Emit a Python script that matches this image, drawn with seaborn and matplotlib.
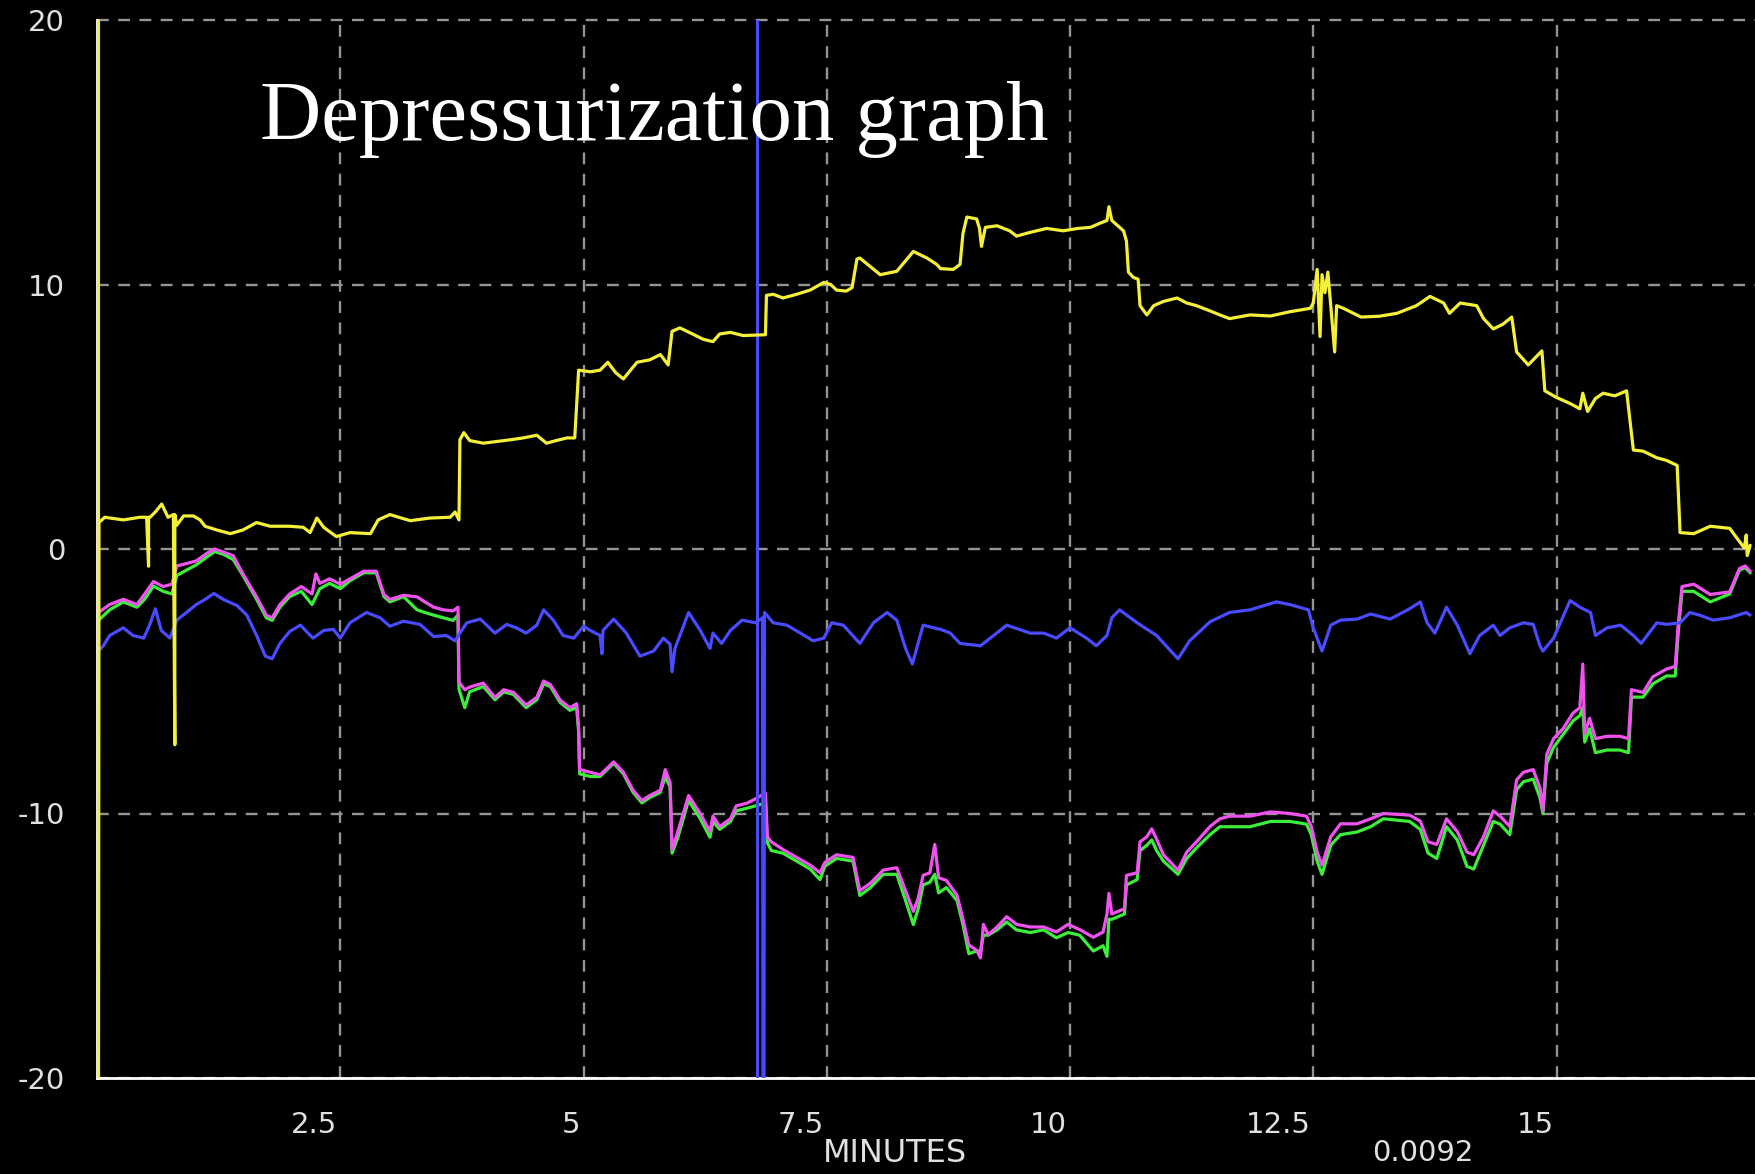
import matplotlib
matplotlib.use("Agg")
import matplotlib.pyplot as plt
import matplotlib.transforms as mtransforms
import seaborn as sns

# ---- data (minutes, pressure) ----
yellow_t = [0.015, 0.015, 0.02, 0.08, 0.27, 0.44, 0.51, 0.53, 0.53, 0.545,
            0.60, 0.665, 0.73, 0.785, 0.80, 0.80, 0.82, 0.89, 0.99, 1.06,
            1.11, 1.23, 1.37, 1.50, 1.64, 1.78, 1.98, 2.12, 2.19, 2.26,
            2.33, 2.46, 2.60, 2.81, 2.89, 3.01, 3.22, 3.42, 3.63, 3.68,
            3.72, 3.73, 3.77, 3.83, 3.97, 4.25, 4.38, 4.52, 4.62, 4.72,
            4.83, 4.91, 4.93, 4.95, 5.07, 5.17, 5.25, 5.33, 5.41, 5.55,
            5.68, 5.79, 5.87, 5.91, 5.99, 6.12, 6.23, 6.33, 6.40, 6.51,
            6.64, 6.78, 6.87, 6.88, 6.95, 7.05, 7.19, 7.33, 7.47, 7.54,
            7.60, 7.70, 7.76, 7.81, 7.84, 8.05, 8.22, 8.39, 8.53, 8.63,
            8.67, 8.80, 8.87, 8.90, 8.94, 9.04, 9.07, 9.09, 9.13, 9.25,
            9.38, 9.45, 9.59, 9.76, 9.93, 10.08, 10.21, 10.31, 10.38, 10.40,
            10.43, 10.55, 10.58, 10.60, 10.65, 10.70, 10.72, 10.79, 10.86, 10.96,
            11.10, 11.20, 11.30, 11.44, 11.54, 11.64, 11.85, 12.06, 12.26, 12.47,
            12.50, 12.54, 12.57, 12.59, 12.62, 12.65, 12.68, 12.72, 12.74, 12.81,
            12.99, 13.18, 13.36, 13.56, 13.70, 13.84, 13.90, 14.01, 14.18, 14.25,
            14.35, 14.45, 14.54, 14.59, 14.71, 14.85, 14.88, 15.00, 15.14, 15.24,
            15.27, 15.32, 15.40, 15.48, 15.60, 15.72, 15.79, 15.89, 16.03, 16.13,
            16.24, 16.27, 16.41, 16.58, 16.78, 16.85, 16.93, 16.95, 16.96, 16.99]
yellow_v = [20, -20, 1.0, 1.2, 1.1, 1.2, 1.2, -0.65, 1.2, 1.2,
            1.4, 1.7, 1.2, 1.3, -7.4, 1.3, 0.9, 1.25, 1.25, 1.1,
            0.86, 0.72, 0.58, 0.72, 1.0, 0.86, 0.86, 0.82, 0.62, 1.17,
            0.82, 0.47, 0.62, 0.58, 1.1, 1.3, 1.07, 1.17, 1.2, 1.4,
            1.1, 4.13, 4.4, 4.1, 4.0, 4.13, 4.2, 4.3, 4.0, 4.1,
            4.2, 4.2, 5.5, 6.76, 6.7, 6.76, 7.06, 6.67, 6.43, 7.06,
            7.15, 7.35, 6.96, 8.23, 8.36, 8.13, 7.93, 7.84, 8.13, 8.19,
            8.07, 8.09, 8.1, 9.59, 9.63, 9.49, 9.63, 9.79, 10.08, 10.0,
            9.79, 9.75, 9.88, 10.96, 11.0, 10.37, 10.5, 11.25, 11.0, 10.76,
            10.6, 10.57, 10.76, 11.93, 12.55, 12.48, 12.12, 11.44, 12.16, 12.22,
            12.03, 11.83, 11.97, 12.12, 12.03, 12.12, 12.16, 12.32, 12.42, 12.94,
            12.42, 12.03, 11.64, 10.47, 10.27, 10.2, 9.2, 8.85, 9.2, 9.36,
            9.49, 9.3, 9.2, 9.0, 8.85, 8.71, 8.85, 8.81, 8.97, 9.1,
            9.3, 10.57, 8.03, 10.37, 9.69, 10.47, 9.2, 7.45, 9.2, 9.1,
            8.77, 8.8, 8.91, 9.2, 9.55, 9.3, 8.91, 9.3, 9.2, 8.71,
            8.32, 8.5, 8.77, 7.45, 6.96, 7.49, 5.98, 5.73, 5.5, 5.3,
            5.89, 5.2, 5.69, 5.89, 5.79, 5.98, 3.74, 3.7, 3.45, 3.35,
            3.16, 0.62, 0.58, 0.86, 0.78, 0.43, 0.04, 0.53, -0.25, 0.14]

pink_t = [0.015, 0.13, 0.27, 0.41, 0.49, 0.58, 0.68, 0.77, 0.82, 0.92,
          1.02, 1.13, 1.21, 1.30, 1.40, 1.50, 1.64, 1.74, 1.80, 1.88,
          1.98, 2.10, 2.21, 2.25, 2.29, 2.39, 2.50, 2.60, 2.74, 2.87,
          2.95, 3.01, 3.15, 3.29, 3.37, 3.46, 3.56, 3.66, 3.71, 3.72,
          3.78, 3.83, 3.97, 4.09, 4.18, 4.28, 4.41, 4.52, 4.59, 4.66,
          4.76, 4.86, 4.93, 4.95, 4.96, 5.07, 5.17, 5.31, 5.41, 5.51,
          5.60, 5.68, 5.79, 5.84, 5.89, 5.91, 5.97, 6.08, 6.20, 6.30,
          6.33, 6.40, 6.51, 6.57, 6.68, 6.78, 6.87, 6.89, 6.93, 7.05,
          7.19, 7.33, 7.43, 7.48, 7.60, 7.77, 7.84, 7.95, 8.08, 8.22,
          8.32, 8.39, 8.44, 8.49, 8.56, 8.61, 8.65, 8.73, 8.84, 8.90,
          8.96, 9.04, 9.08, 9.11, 9.16, 9.25, 9.35, 9.45, 9.59, 9.73,
          9.86, 9.98, 10.10, 10.24, 10.34, 10.38, 10.40, 10.43, 10.56, 10.58,
          10.69, 10.72, 10.79, 10.84, 10.89, 10.96, 11.11, 11.20, 11.30, 11.44,
          11.54, 11.64, 11.85, 12.06, 12.26, 12.43, 12.48, 12.54, 12.59, 12.68,
          12.78, 12.95, 13.09, 13.22, 13.49, 13.60, 13.68, 13.77, 13.87, 13.98,
          14.08, 14.15, 14.25, 14.35, 14.42, 14.52, 14.59, 14.66, 14.76, 14.83,
          14.86, 14.90, 14.97, 15.07, 15.17, 15.24, 15.27, 15.29, 15.34, 15.40,
          15.52, 15.65, 15.74, 15.77, 15.89, 15.99, 16.13, 16.22, 16.25, 16.29,
          16.41, 16.58, 16.78, 16.88, 16.94, 16.99]
pink_v = [-2.4, -2.1, -1.9, -2.1, -1.7, -1.23, -1.42, -1.33, -0.64, -0.55,
          -0.45, -0.16, 0.0, -0.12, -0.25, -0.94, -1.81, -2.5, -2.6, -2.1,
          -1.7, -1.42, -1.7, -0.94, -1.3, -1.13, -1.33, -1.13, -0.84, -0.84,
          -1.72, -1.91, -1.75, -1.81, -2.0, -2.2, -2.3, -2.34, -2.2, -5.03,
          -5.32, -5.22, -5.07, -5.61, -5.32, -5.42, -5.9, -5.61, -4.99, -5.13,
          -5.71, -6.0, -5.85, -6.78, -8.34, -8.44, -8.54, -8.05, -8.44, -9.12,
          -9.51, -9.32, -9.12, -8.34, -8.83, -11.36, -10.68, -9.32, -10.0, -10.68,
          -10.1, -10.49, -10.2, -9.71, -9.61, -9.42, -9.22, -10.88, -11.07, -11.36,
          -11.66, -11.95, -12.24, -11.85, -11.56, -11.66, -12.92, -12.63, -12.14, -12.05,
          -13.02, -13.7, -13.2, -12.34, -12.24, -11.17, -12.43, -12.53, -13.1, -14.0,
          -14.97, -15.17, -15.46, -14.19, -14.58, -14.29, -13.9, -14.19, -14.29, -14.29,
          -14.48, -14.19, -14.39, -14.68, -14.48, -13.8, -13.02, -13.8, -13.6, -12.34,
          -12.24, -11.07, -10.88, -10.58, -10.97, -11.56, -12.14, -11.46, -11.07, -10.49,
          -10.2, -10.1, -10.1, -9.94, -10.0, -10.1, -10.49, -11.46, -11.95, -10.88,
          -10.39, -10.39, -10.2, -10.0, -10.06, -10.29, -11.07, -11.17, -10.2, -10.68,
          -11.46, -11.56, -10.88, -9.9, -10.1, -10.49, -8.73, -8.44, -8.34, -9.03,
          -9.9, -7.76, -7.17, -6.78, -6.2, -6.0, -4.35, -6.98, -6.4, -7.17,
          -7.08, -7.08, -7.17, -5.32, -5.42, -4.83, -4.54, -4.44, -2.88, -1.42,
          -1.33, -1.72, -1.62, -0.74, -0.64, -0.84]
green_v = [-2.7, -2.3, -2.0, -2.2, -1.9, -1.4, -1.6, -1.7, -1.0, -0.8,
           -0.6, -0.3, -0.1, -0.2, -0.4, -1.0, -1.9, -2.6, -2.7, -2.2,
           -1.8, -1.6, -2.1, -1.8, -1.5, -1.3, -1.5, -1.2, -0.9, -0.9,
           -1.8, -2.0, -1.8, -2.3, -2.4, -2.5, -2.6, -2.7, -2.5, -5.3,
           -6.0, -5.4, -5.2, -5.7, -5.4, -5.5, -6.0, -5.7, -5.1, -5.2,
           -5.8, -6.1, -6.0, -6.9, -8.5, -8.6, -8.6, -8.1, -8.5, -9.2,
           -9.6, -9.4, -9.2, -8.6, -9.0, -11.5, -10.9, -9.5, -10.2, -10.9,
           -10.3, -10.6, -10.3, -9.9, -9.8, -9.7, -9.6, -11.1, -11.4, -11.5,
           -11.8, -12.1, -12.5, -12.0, -11.7, -11.8, -13.1, -12.8, -12.3, -12.3,
           -13.4, -14.2, -13.6, -12.7, -12.6, -12.3, -13.0, -12.8, -13.3, -14.2,
           -15.3, -15.2, -15.2, -14.6, -14.6, -14.4, -14.1, -14.4, -14.5, -14.4,
           -14.7, -14.5, -14.6, -15.2, -15.0, -15.4, -14.0, -14.0, -13.8, -12.7,
           -12.5, -11.4, -11.2, -11.0, -11.4, -11.8, -12.3, -11.7, -11.3, -10.8,
           -10.5, -10.5, -10.5, -10.3, -10.3, -10.4, -10.8, -11.8, -12.3, -11.2,
           -10.8, -10.7, -10.5, -10.2, -10.3, -10.6, -11.5, -11.7, -10.5, -11.0,
           -12.0, -12.1, -11.2, -10.3, -10.4, -10.8, -9.1, -8.8, -8.7, -9.4,
           -10.0, -8.1, -7.5, -7.0, -6.5, -6.3, -6.0, -7.3, -6.8, -7.7,
           -7.6, -7.6, -7.7, -5.6, -5.6, -5.1, -4.8, -4.8, -3.2, -1.6,
           -1.6, -2.0, -1.7, -0.8, -0.7, -0.9]

blue_t = [0.015, 0.065, 0.13, 0.27, 0.37, 0.48, 0.54, 0.60, 0.66, 0.75,
          0.82, 0.92, 1.02, 1.11, 1.20, 1.30, 1.44, 1.54, 1.64, 1.73,
          1.80, 1.88, 1.98, 2.09, 2.22, 2.33, 2.43, 2.50, 2.60, 2.77,
          2.91, 3.01, 3.15, 3.32, 3.46, 3.59, 3.68, 3.73, 3.80, 3.94,
          4.09, 4.21, 4.31, 4.41, 4.52, 4.59, 4.69, 4.79, 4.90, 5.00,
          5.07, 5.17, 5.19, 5.20, 5.31, 5.44, 5.58, 5.72, 5.82, 5.89,
          5.91, 5.94, 6.08, 6.20, 6.30, 6.33, 6.42, 6.51, 6.63, 6.77,
          6.84, 6.845, 6.855, 6.86, 6.95, 7.09, 7.23, 7.36, 7.47, 7.55,
          7.67, 7.84, 7.98, 8.12, 8.22, 8.31, 8.38, 8.49, 8.67, 8.77,
          8.87, 9.08, 9.35, 9.59, 9.73, 9.86, 10.00, 10.17, 10.27, 10.38,
          10.43, 10.51, 10.69, 10.89, 11.11, 11.23, 11.44, 11.64, 11.85, 12.12,
          12.26, 12.45, 12.50, 12.59, 12.68, 12.78, 12.95, 13.09, 13.29, 13.49,
          13.60, 13.67, 13.75, 13.87, 13.98, 14.11, 14.21, 14.35, 14.42, 14.52,
          14.66, 14.76, 14.83, 14.86, 14.97, 15.14, 15.24, 15.35, 15.40, 15.52,
          15.66, 15.79, 15.87, 16.03, 16.13, 16.27, 16.37, 16.47, 16.61, 16.78,
          16.95, 16.99]
blue_v = [-3.86, -3.66, -3.27, -2.98, -3.27, -3.37, -2.88, -2.26, -3.08, -3.37,
          -2.69, -2.4, -2.1, -1.91, -1.68, -1.91, -2.14, -2.5, -3.27, -4.05,
          -4.15, -3.57, -3.12, -2.88, -3.37, -3.08, -3.04, -3.37, -2.79, -2.4,
          -2.6, -2.92, -2.73, -2.85, -3.31, -3.27, -3.47, -3.18, -2.79, -2.65,
          -3.18, -2.85, -2.98, -3.18, -2.88, -2.3, -2.69, -3.27, -3.37, -2.92,
          -3.08, -3.27, -3.96, -3.08, -2.65, -3.18, -4.05, -3.86, -3.37, -3.6,
          -4.64, -3.76, -2.4, -3.08, -3.76, -3.18, -3.57, -3.08, -2.69, -2.79,
          -2.6, -20, -20, -2.4, -2.79, -2.88, -3.18, -3.47, -3.37, -2.79,
          -2.88, -3.57, -2.79, -2.4, -2.69, -3.76, -4.35, -2.88, -3.04, -3.18,
          -3.57, -3.66, -2.88, -3.18, -3.18, -3.37, -2.98, -3.37, -3.66, -3.27,
          -2.6, -2.3, -2.79, -3.27, -4.15, -3.47, -2.75, -2.4, -2.3, -2.0,
          -2.1, -2.3, -2.98, -3.86, -2.88, -2.69, -2.65, -2.46, -2.65, -2.26,
          -2.0, -2.79, -3.18, -2.2, -2.88, -3.96, -3.27, -2.88, -3.27, -2.98,
          -2.79, -2.85, -3.66, -3.86, -3.37, -1.95, -2.2, -2.4, -3.27, -2.98,
          -2.88, -3.27, -3.57, -2.79, -2.85, -2.79, -2.4, -2.5, -2.69, -2.6,
          -2.4, -2.5]

cursor_x = [6.78]
x_ticks = [2.5, 5, 7.5, 10, 12.5, 15]
x_tick_labels = ["2.5", "5", "7.5", "10", "12.5", "15"]
y_ticks = [-20, -10, 0, 10, 20]
y_tick_labels = ["-20", "-10", "0", "10", "20"]

YELLOW = "#f4f03a"
PINK = "#f052f0"
GREEN = "#3ced3c"
BLUE = "#4a4aff"
GRID = "#949494"

sns.set_style("dark")
plt.rcParams["font.family"] = ["DejaVu Sans"]

W, H = 1755, 1174
fig = plt.figure(figsize=(W / 100, H / 100), dpi=100, facecolor="black")
ax = fig.add_axes([97 / W, 1 - 1078 / H, (W - 97) / W, (1078 - 20) / H])
ax.set_facecolor("black")

# traces
sns.lineplot(x=pink_t, y=green_v, sort=False, estimator=None,
             color=GREEN, lw=2.3, ax=ax, zorder=3)
sns.lineplot(x=pink_t, y=pink_v, sort=False, estimator=None,
             color=PINK, lw=2.3, ax=ax, zorder=4)
sns.lineplot(x=blue_t, y=blue_v, sort=False, estimator=None,
             color=BLUE, lw=2.3, ax=ax, zorder=5)
sns.lineplot(x=yellow_t, y=yellow_v, sort=False, estimator=None,
             color=YELLOW, lw=2.3, ax=ax, zorder=6)
for cx in cursor_x:
    ax.axvline(cx, color=BLUE, lw=2.2, zorder=5)

ax.set_xlim(0, 17.04)
ax.set_ylim(-20, 20)

# grid and spines
ax.set_axisbelow(True)
ax.grid(True, color=GRID, linestyle=(0, (5, 4)), linewidth=1.7)
for gl in ax.get_ygridlines() + ax.get_xgridlines():
    gl.set_clip_on(False)
for side in ["top", "right"]:
    ax.spines[side].set_visible(False)
for side in ["left", "bottom"]:
    ax.spines[side].set_visible(True)
    ax.spines[side].set_color("white")
    ax.spines[side].set_linewidth(2)

ax.set_xticks(x_ticks)
ax.set_xticklabels(x_tick_labels, ha="right")
ax.set_yticks(y_ticks)
ax.set_yticklabels(y_tick_labels)
ax.tick_params(axis="both", direction="out", length=17, width=1.6,
               color="#e6e6e6", labelcolor="#e0e0e0", labelsize=21, pad=6)
ax.tick_params(axis="x", pad=7)
shift = mtransforms.ScaledTranslation(-0.03, 0, fig.dpi_scale_trans)
for lab in ax.get_xticklabels():
    lab.set_transform(lab.get_transform() + shift)

ax.set_xlabel("")
ax.set_ylabel("")

fig.text(895 / W, 1 - 1153 / H, "MINUTES", color="#e0e0e0", fontsize=23,
         ha="center", va="center")
fig.text(1423 / W, 1 - 1153 / H, "0.0092", color="#e0e0e0", fontsize=21,
         ha="center", va="center")
fig.text(260 / W, 1 - 140 / H, "Depressurization graph", color="white",
         fontsize=61, family=["Liberation Serif", "DejaVu Serif"],
         ha="left", va="baseline")

fig.savefig("out.png", dpi=100, facecolor="black")
